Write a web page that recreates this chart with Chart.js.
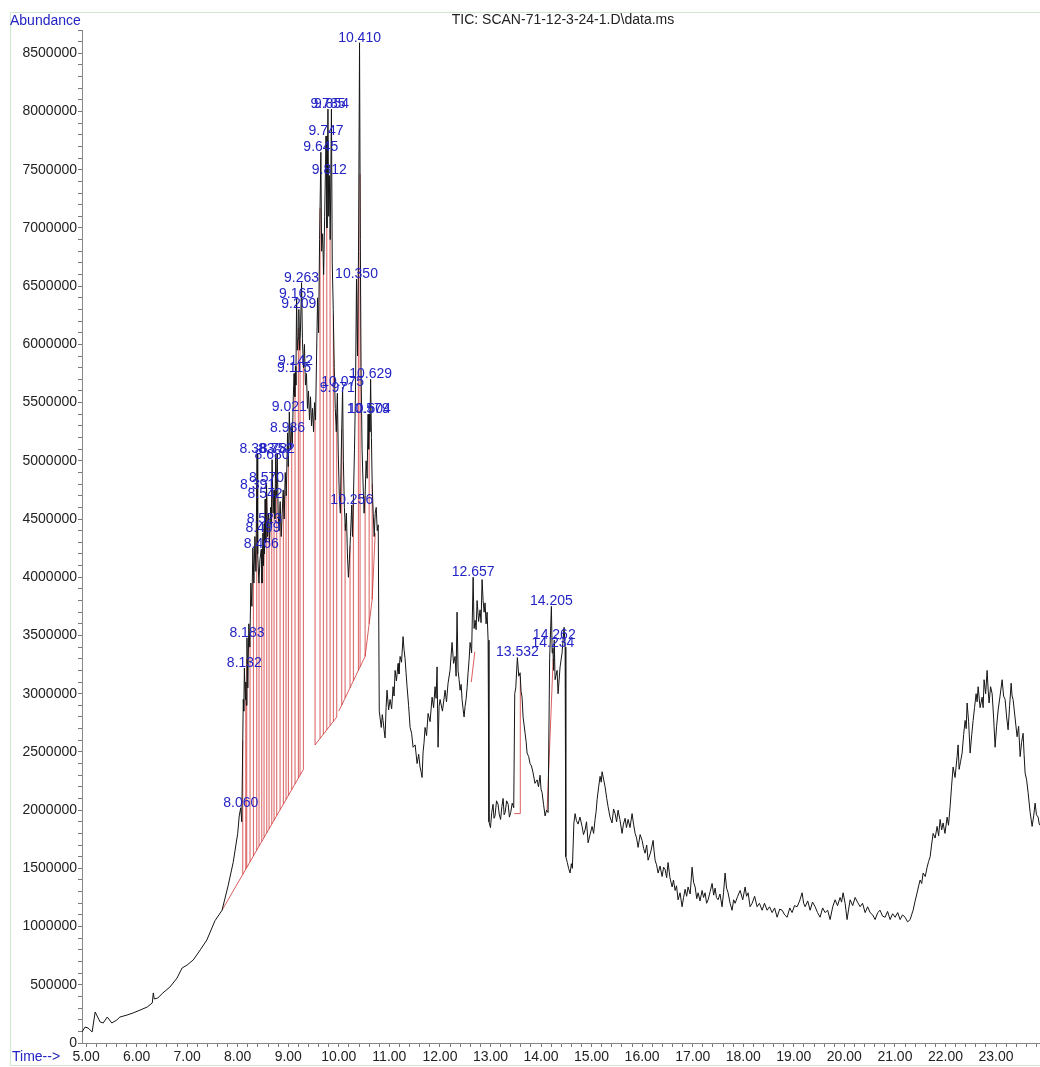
<!DOCTYPE html>
<html>
<head>
<meta charset="utf-8">
<script src="https://cdn.jsdelivr.net/npm/chart.js@4"></script>
<style>
  html, body { margin: 0; padding: 0; background: #fff; }
  #wrap { width: 1040px; height: 1067px; }
</style>
</head>
<body>
<div id="wrap"><canvas id="tic" width="1040" height="1067"></canvas></div>
<script>
// TIC trace as [retention time (min), abundance]
// rising front, 4.9 - 8.1 min
var TRACE_FRONT = [
  [4.92, 95000], [4.98, 137000], [5.04, 129000], [5.12, 95000], [5.18, 266000], [5.28, 180000], [5.34, 172000],
  [5.42, 223000], [5.51, 172000], [5.61, 198000], [5.67, 223000], [5.81, 240000], [5.93, 258000], [6.07, 283000],
  [6.21, 309000], [6.31, 344000], [6.33, 430000], [6.35, 378000], [6.42, 387000], [6.52, 430000], [6.66, 481000],
  [6.80, 558000], [6.90, 644000], [7.00, 670000], [7.12, 713000], [7.26, 800000], [7.39, 885000], [7.55, 1050000],
  [7.69, 1140000], [7.81, 1350000], [7.91, 1550000], [8.00, 1800000], [8.03, 1950000], [8.06, 2020000], [8.08, 1900000]
];
// co-eluting cluster, 8.1 - 10.8 min
var TRACE_CLUSTER = [
  [8.10, 2600000], [8.11, 2950000], [8.12, 2850000], [8.132, 3220000], [8.15, 2950000], [8.16, 3100000], [8.17, 2900000],
  [8.183, 3480000], [8.20, 3050000], [8.22, 3600000], [8.24, 3400000], [8.26, 3950000], [8.28, 3750000], [8.30, 4250000],
  [8.32, 3950000], [8.34, 4350000], [8.36, 4050000], [8.383, 5060000], [8.391, 4750000], [8.40, 4200000], [8.42, 3950000],
  [8.44, 4150000], [8.466, 4240000], [8.48, 3950000], [8.499, 4380000], [8.51, 4100000], [8.523, 4460000], [8.53, 4200000],
  [8.542, 4670000], [8.555, 4300000], [8.570, 4810000], [8.59, 4350000], [8.61, 4550000], [8.63, 4300000], [8.65, 4600000],
  [8.665, 4450000], [8.680, 5010000], [8.70, 4550000], [8.72, 4750000], [8.735, 4500000], [8.752, 5060000], [8.765, 4700000],
  [8.782, 5060000], [8.80, 4550000], [8.82, 4400000], [8.84, 4650000], [8.86, 4350000], [8.88, 4550000], [8.90, 4750000],
  [8.92, 4500000], [8.94, 4900000], [8.96, 4700000], [8.986, 5240000], [9.00, 4950000], [9.021, 5420000], [9.04, 5100000],
  [9.06, 5300000], [9.08, 5150000], [9.10, 5550000], [9.115, 5750000], [9.13, 5550000], [9.142, 5810000], [9.15, 5650000],
  [9.165, 6390000], [9.18, 5950000], [9.195, 6050000], [9.209, 6300000], [9.225, 5950000], [9.24, 6100000], [9.263, 6530000],
  [9.28, 6050000], [9.30, 5800000], [9.32, 6000000], [9.34, 5650000], [9.36, 5750000], [9.38, 5450000], [9.40, 5600000],
  [9.42, 5350000], [9.44, 5550000], [9.46, 5300000], [9.48, 5450000], [9.50, 5250000], [9.52, 5500000], [9.54, 5350000],
  [9.56, 5900000], [9.58, 6400000], [9.60, 6100000], [9.62, 6900000], [9.645, 7650000], [9.66, 6800000], [9.68, 6950000],
  [9.70, 6600000], [9.72, 7100000], [9.747, 7790000], [9.765, 7000000], [9.785, 8020000], [9.80, 7100000], [9.812, 7450000],
  [9.83, 6900000], [9.854, 8020000], [9.87, 6700000], [9.89, 6300000], [9.91, 5800000], [9.93, 5450000], [9.95, 5250000],
  [9.971, 5580000], [9.99, 5050000], [10.01, 4700000], [10.03, 4550000], [10.05, 5100000], [10.075, 5630000], [10.09, 5000000],
  [10.11, 4600000], [10.13, 4400000], [10.15, 4550000], [10.17, 4200000], [10.19, 4000000], [10.21, 4150000], [10.23, 4350000],
  [10.256, 4620000], [10.27, 4350000], [10.29, 4700000], [10.31, 5100000], [10.33, 5600000], [10.35, 6560000], [10.37, 5900000],
  [10.39, 6800000], [10.41, 8590000], [10.425, 6900000], [10.44, 5800000], [10.46, 5100000], [10.48, 4800000], [10.50, 4550000],
  [10.52, 4700000], [10.54, 5000000], [10.56, 4850000], [10.579, 5400000], [10.59, 5100000], [10.604, 5400000], [10.615, 5250000],
  [10.629, 5700000], [10.645, 5200000], [10.66, 4800000], [10.68, 4550000], [10.70, 4350000], [10.72, 4550000], [10.74, 4600000],
  [10.76, 4400000], [10.78, 4450000], [10.80, 2850000]
];
// middle section, 10.8 - 14.6 min
var TRACE_MIDDLE = [
  [10.84, 2710000], [10.86, 2820000], [10.875, 2770000], [10.895, 2690000], [10.915, 2620000], [10.935, 2880000],
  [10.954, 3030000], [10.985, 2860000], [11.014, 2950000], [11.045, 2870000], [11.073, 3060000], [11.093, 2980000],
  [11.113, 3200000], [11.14, 3110000], [11.172, 3260000], [11.19, 3170000], [11.212, 3320000], [11.24, 3270000],
  [11.271, 3490000], [11.29, 3380000], [11.311, 3300000], [11.33, 3180000], [11.35, 3060000], [11.38, 2900000],
  [11.41, 2710000], [11.44, 2660000], [11.469, 2540000], [11.51, 2560000], [11.548, 2400000], [11.58, 2480000],
  [11.607, 2370000], [11.627, 2330000], [11.647, 2280000], [11.667, 2500000], [11.686, 2580000], [11.706, 2710000],
  [11.736, 2640000], [11.766, 2830000], [11.805, 2760000], [11.845, 2970000], [11.875, 2880000], [11.904, 3060000],
  [11.924, 2960000], [11.944, 3230000], [11.963, 2540000], [11.983, 2890000], [12.003, 2950000], [12.05, 2850000],
  [12.102, 3030000], [12.13, 2930000], [12.161, 3090000], [12.20, 3200000], [12.24, 3440000], [12.27, 3260000],
  [12.30, 3320000], [12.32, 3150000], [12.339, 3700000], [12.359, 3200000], [12.379, 3120000], [12.399, 3030000],
  [12.42, 3080000], [12.438, 2950000], [12.458, 2870000], [12.478, 2800000], [12.497, 2890000], [12.517, 2950000],
  [12.537, 3050000], [12.557, 3180000], [12.577, 3290000], [12.597, 3440000], [12.627, 3350000], [12.657, 4000000],
  [12.676, 3560000], [12.696, 3630000], [12.716, 3550000], [12.735, 3800000], [12.765, 3620000], [12.794, 3720000],
  [12.814, 3610000], [12.834, 3980000], [12.854, 3800000], [12.874, 3700000], [12.893, 3780000], [12.913, 3600000],
  [12.933, 3700000], [12.953, 3460000], [12.97, 1900000], [13.00, 1850000], [13.025, 1980000], [13.05, 2050000],
  [13.07, 1930000], [13.09, 1950000], [13.12, 2080000], [13.15, 2050000], [13.175, 1960000], [13.20, 1920000],
  [13.225, 2030000], [13.25, 2100000], [13.27, 1960000], [13.29, 1980000], [13.32, 2080000], [13.35, 2050000],
  [13.375, 1940000], [13.40, 1980000], [13.43, 2060000], [13.46, 2020000], [13.48, 3000000], [13.50, 3050000],
  [13.532, 3310000], [13.56, 3150000], [13.586, 3180000], [13.605, 3020000], [13.625, 2970000], [13.645, 2800000],
  [13.665, 2730000], [13.685, 2660000], [13.705, 2590000], [13.724, 2490000], [13.755, 2460000], [13.783, 2400000],
  [13.81, 2380000], [13.843, 2320000], [13.88, 2230000], [13.922, 2260000], [13.95, 2200000], [13.981, 2300000],
  [14.00, 2180000], [14.021, 2150000], [14.05, 2050000], [14.08, 1950000], [14.11, 2000000], [14.14, 1980000],
  [14.17, 3300000], [14.205, 3750000], [14.22, 3350000], [14.234, 3390000], [14.25, 3200000], [14.262, 3460000],
  [14.278, 3120000], [14.318, 3200000], [14.337, 3000000], [14.377, 3230000], [14.416, 3350000], [14.456, 3570000],
  [14.476, 3400000], [14.49, 1600000], [14.52, 1550000], [14.545, 1500000], [14.575, 1460000], [14.60, 1540000],
  [14.62, 1500000]
];
// late section, 14.6 - 23.9 min
var TRACE_LATE = [
  [14.65, 1890000], [14.674, 1970000], [14.70, 1910000], [14.733, 1880000], [14.77, 1940000], [14.812, 1860000],
  [14.84, 1790000], [14.871, 1830000], [14.90, 1900000], [14.931, 1720000], [14.97, 1790000], [15.01, 1860000],
  [15.04, 1800000], [15.069, 1920000], [15.09, 1990000], [15.109, 2090000], [15.14, 2200000], [15.168, 2290000],
  [15.19, 2240000], [15.208, 2330000], [15.24, 2260000], [15.267, 2200000], [15.30, 2100000], [15.326, 2030000],
  [15.365, 1940000], [15.405, 1890000], [15.435, 2010000], [15.465, 1970000], [15.495, 1900000], [15.524, 2000000],
  [15.56, 1920000], [15.603, 1800000], [15.63, 1880000], [15.663, 1930000], [15.69, 1850000], [15.722, 1920000],
  [15.76, 1850000], [15.801, 1970000], [15.83, 1880000], [15.861, 1800000], [15.89, 1760000], [15.92, 1680000],
  [15.96, 1790000], [15.999, 1740000], [16.03, 1670000], [16.058, 1630000], [16.09, 1700000], [16.118, 1570000],
  [16.17, 1640000], [16.217, 1740000], [16.236, 1650000], [16.256, 1570000], [16.285, 1530000], [16.316, 1460000],
  [16.355, 1520000], [16.395, 1430000], [16.425, 1510000], [16.454, 1490000], [16.485, 1420000], [16.513, 1550000],
  [16.55, 1420000], [16.593, 1340000], [16.62, 1400000], [16.652, 1310000], [16.68, 1350000], [16.711, 1230000],
  [16.75, 1290000], [16.79, 1170000], [16.82, 1250000], [16.85, 1320000], [16.88, 1260000], [16.909, 1340000],
  [16.95, 1280000], [16.988, 1510000], [17.018, 1380000], [17.048, 1340000], [17.08, 1240000], [17.107, 1290000],
  [17.145, 1220000], [17.186, 1310000], [17.215, 1250000], [17.245, 1290000], [17.275, 1200000], [17.305, 1230000],
  [17.345, 1300000], [17.384, 1370000], [17.415, 1270000], [17.443, 1330000], [17.47, 1250000], [17.502, 1230000],
  [17.54, 1280000], [17.581, 1170000], [17.61, 1290000], [17.641, 1460000], [17.67, 1330000], [17.70, 1290000],
  [17.74, 1200000], [17.779, 1140000], [17.81, 1230000], [17.839, 1200000], [17.89, 1260000], [17.938, 1310000],
  [17.99, 1230000], [18.037, 1340000], [18.065, 1260000], [18.096, 1290000], [18.135, 1170000], [18.175, 1200000],
  [18.225, 1260000], [18.274, 1170000], [18.32, 1200000], [18.373, 1140000], [18.42, 1200000], [18.472, 1140000],
  [18.52, 1170000], [18.571, 1120000], [18.62, 1160000], [18.67, 1080000], [18.72, 1150000], [18.769, 1140000],
  [18.82, 1100000], [18.868, 1080000], [18.92, 1160000], [18.966, 1120000], [19.015, 1180000], [19.065, 1170000],
  [19.115, 1220000], [19.164, 1290000], [19.195, 1200000], [19.224, 1170000], [19.275, 1220000], [19.323, 1140000],
  [19.37, 1210000], [19.422, 1170000], [19.47, 1120000], [19.52, 1080000], [19.57, 1160000], [19.619, 1120000],
  [19.67, 1140000], [19.718, 1060000], [19.77, 1170000], [19.817, 1230000], [19.865, 1180000], [19.916, 1250000],
  [19.945, 1210000], [19.975, 1290000], [20.015, 1200000], [20.054, 1060000], [20.085, 1150000], [20.114, 1230000],
  [20.165, 1180000], [20.213, 1250000], [20.26, 1210000], [20.312, 1170000], [20.36, 1200000], [20.411, 1120000],
  [20.46, 1170000], [20.509, 1120000], [20.56, 1100000], [20.608, 1060000], [20.66, 1120000], [20.707, 1140000],
  [20.755, 1090000], [20.806, 1080000], [20.855, 1130000], [20.905, 1060000], [20.955, 1110000], [21.004, 1080000],
  [21.055, 1120000], [21.103, 1060000], [21.15, 1100000], [21.202, 1080000], [21.25, 1040000], [21.301, 1060000],
  [21.33, 1100000], [21.36, 1140000], [21.40, 1220000], [21.439, 1290000], [21.47, 1350000], [21.499, 1400000],
  [21.53, 1370000], [21.558, 1460000], [21.60, 1430000], [21.637, 1510000], [21.667, 1560000], [21.697, 1600000],
  [21.725, 1700000], [21.756, 1800000], [21.795, 1760000], [21.835, 1860000], [21.865, 1780000], [21.894, 1920000],
  [21.925, 1830000], [21.953, 1890000], [21.99, 1800000], [22.033, 1940000], [22.06, 1870000], [22.092, 2030000],
  [22.12, 2200000], [22.151, 2370000], [22.19, 2280000], [22.23, 2460000], [22.25, 2560000], [22.27, 2350000],
  [22.30, 2420000], [22.329, 2490000], [22.36, 2650000], [22.389, 2770000], [22.41, 2700000], [22.428, 2920000],
  [22.458, 2760000], [22.488, 2490000], [22.52, 2650000], [22.547, 2770000], [22.575, 2880000], [22.606, 3000000],
  [22.626, 2930000], [22.646, 3060000], [22.685, 2880000], [22.725, 2970000], [22.745, 2880000], [22.764, 3120000],
  [22.795, 3000000], [22.824, 3200000], [22.845, 3030000], [22.863, 2920000], [22.893, 3060000], [22.923, 3000000],
  [22.953, 2790000], [22.982, 2540000], [23.012, 2720000], [23.042, 2860000], [23.08, 2980000], [23.121, 3120000],
  [23.15, 2980000], [23.18, 2950000], [23.21, 2800000], [23.239, 2690000], [23.27, 2900000], [23.299, 3090000],
  [23.318, 2980000], [23.338, 2950000], [23.375, 2800000], [23.417, 2630000], [23.447, 2720000], [23.477, 2460000],
  [23.505, 2580000], [23.536, 2660000], [23.555, 2480000], [23.575, 2320000], [23.605, 2260000], [23.635, 2150000],
  [23.675, 1980000], [23.714, 1860000], [23.745, 1950000], [23.773, 2060000], [23.80, 1960000], [23.833, 1940000],
  [23.855, 1880000], [23.87, 1870000]
];

// labelled peaks (retention times)
var PEAK_RT = [
  8.060, 8.132, 8.183, 8.383, 8.391, 8.466, 8.499, 8.523, 8.542, 8.570, 8.680, 8.752, 8.782, 8.986, 9.021,
  9.115, 9.142, 9.165, 9.209, 9.263, 9.645, 9.747, 9.785, 9.812, 9.854, 9.971, 10.075, 10.256, 10.350, 10.410,
  10.579, 10.604, 10.629, 12.657, 13.532, 14.205, 14.234, 14.262
];

// integration baselines: [t start, abundance start, t end, abundance end]
var BASELINES = [
  [7.69, 1140000, 9.30, 2350000],
  [9.53, 2560000, 9.96, 2800000],
  [10.00, 2850000, 10.42, 3230000],
  [10.42, 3230000, 10.52, 3320000],
  [10.52, 3320000, 10.66, 3810000],
  [10.66, 3810000, 10.72, 4380000],
  [12.62, 3100000, 12.69, 3360000],
  [13.47, 1970000, 13.59, 1970000],
  [14.12, 2000000, 14.24, 3300000]
];

// peak start/stop marks, dropped from the baseline to the trace
var CUT_TIMES = [
  8.10, 8.16, 8.179, 8.244, 8.310, 8.377, 8.422, 8.476, 8.521, 8.575, 8.620, 8.674, 8.719, 8.772, 8.838,
  8.903, 8.956, 9.002, 9.069, 9.134, 9.200, 9.233, 9.299, 9.530, 9.629, 9.694, 9.762, 9.827, 9.892, 9.959,
  10.058, 10.124, 10.222, 10.288, 10.387, 10.42, 10.52, 10.60, 10.66, 13.59
];

var TIME_LABELS = [5, 6, 7, 8, 9, 10, 11, 12, 13, 14, 15, 16, 17, 18, 19, 20, 21, 22, 23];
var ABUNDANCE_LABELS = [0, 500000, 1000000, 1500000, 2000000, 2500000, 3000000, 3500000, 4000000,
  4500000, 5000000, 5500000, 6000000, 6500000, 7000000, 7500000, 8000000, 8500000];

var BLUE = '#2424c4';
var FONT = '"Liberation Sans", Arial, sans-serif';

var TRACE = TRACE_FRONT.concat(TRACE_CLUSTER, TRACE_MIDDLE, TRACE_LATE);

function valueAt(t) {
  for (var i = 1; i < TRACE.length; i++) {
    if (TRACE[i][0] >= t) {
      var a = TRACE[i - 1], b = TRACE[i];
      return a[1] + (t - a[0]) / (b[0] - a[0]) * (b[1] - a[1]);
    }
  }
  return TRACE[TRACE.length - 1][1];
}

function baselineAt(t) {
  for (var i = 0; i < BASELINES.length; i++) {
    var b = BASELINES[i];
    if (t >= b[0] && t <= b[2]) {
      return b[1] + (t - b[0]) / (b[2] - b[0]) * (b[3] - b[1]);
    }
  }
  return null;
}

var trace = TRACE.map(function (p) { return { x: p[0], y: p[1] }; });

var integration = [];
BASELINES.forEach(function (b) {
  integration.push({ x: b[0], y: b[1] }, { x: b[2], y: b[3] }, { x: b[2], y: null });
});
CUT_TIMES.forEach(function (t) {
  var base = baselineAt(t);
  if (base === null) return;
  integration.push({ x: t, y: base }, { x: t, y: valueAt(t) }, { x: t, y: null });
});

// minor ticks every 0.2 min and every 100000 counts
var timeTicks = [];
for (var k = 25; k <= 119; k++) timeTicks.push({ value: k / 5 });
var abundanceTicks = [];
for (var m = 0; m <= 87; m++) abundanceTicks.push({ value: m * 100000 });

var peakLabels = {
  id: 'peakLabels',
  afterDatasetsDraw: function (chart) {
    var c = chart.ctx, xs = chart.scales.x, ys = chart.scales.y;
    c.save();
    c.font = '14px ' + FONT;
    c.fillStyle = BLUE;
    c.textAlign = 'center';
    c.textBaseline = 'bottom';
    PEAK_RT.forEach(function (rt) {
      c.fillText(rt.toFixed(3), xs.getPixelForValue(rt), ys.getPixelForValue(valueAt(rt)) + 2);
    });
    c.restore();
  }
};

var frame = {
  id: 'frame',
  afterDraw: function (chart) {
    var c = chart.ctx;
    c.save();
    c.strokeStyle = '#cfe6cf';
    c.lineWidth = 1;
    c.strokeRect(10.5, 12.5, 1040, 1053);
    c.font = '14px ' + FONT;
    c.textBaseline = 'middle';
    c.fillStyle = BLUE;
    c.textAlign = 'left';
    c.fillText('Abundance', 10, 21);
    c.fillText('Time-->', 12, 1057);
    c.fillStyle = '#222';
    c.textAlign = 'center';
    c.fillText('TIC: SCAN-71-12-3-24-1.D\\data.ms', 563, 20);
    c.restore();
  }
};

var ctx = document.getElementById('tic').getContext('2d');
var ticChart = new Chart(ctx, {
  type: 'line',
  data: {
    datasets: [{
      label: 'TIC',
      data: trace,
      borderColor: '#151515',
      borderWidth: 1,
      pointRadius: 0,
      tension: 0,
      order: 1
    }, {
      label: 'integration',
      data: integration,
      borderColor: 'rgba(205,40,40,0.75)',
      borderWidth: 1,
      pointRadius: 0,
      tension: 0,
      spanGaps: false,
      order: 2
    }]
  },
  options: {
    responsive: false,
    animation: false,
    devicePixelRatio: 1,
    layout: { padding: { left: 10, top: 30, right: 0, bottom: 0 } },
    plugins: { legend: { display: false }, tooltip: { enabled: false } },
    scales: {
      x: {
        type: 'linear',
        min: 4.92,
        max: 23.87,
        afterBuildTicks: function (scale) { scale.ticks = timeTicks.slice(); },
        afterFit: function (scale) { scale.height = 24; },
        ticks: {
          autoSkip: false,
          maxRotation: 0,
          padding: 2,
          color: '#222',
          font: { family: FONT, size: 14 },
          callback: function (v) {
            return TIME_LABELS.indexOf(Math.round(v)) >= 0 && Math.abs(v - Math.round(v)) < 1e-6 ? v.toFixed(2) : '';
          }
        },
        grid: { drawOnChartArea: false, tickLength: 4, color: '#777' },
        border: { color: '#888' }
      },
      y: {
        min: 0,
        max: 8700000,
        afterBuildTicks: function (scale) { scale.ticks = abundanceTicks.slice(); },
        afterFit: function (scale) { scale.width = 72; },
        ticks: {
          autoSkip: false,
          padding: 1,
          color: '#222',
          font: { family: FONT, size: 14 },
          callback: function (v) {
            return ABUNDANCE_LABELS.indexOf(v) >= 0 ? String(v) : '';
          }
        },
        grid: { drawOnChartArea: false, tickLength: 4, color: '#777' },
        border: { color: '#888' }
      }
    }
  },
  plugins: [peakLabels, frame]
});
</script>
</body>
</html>
